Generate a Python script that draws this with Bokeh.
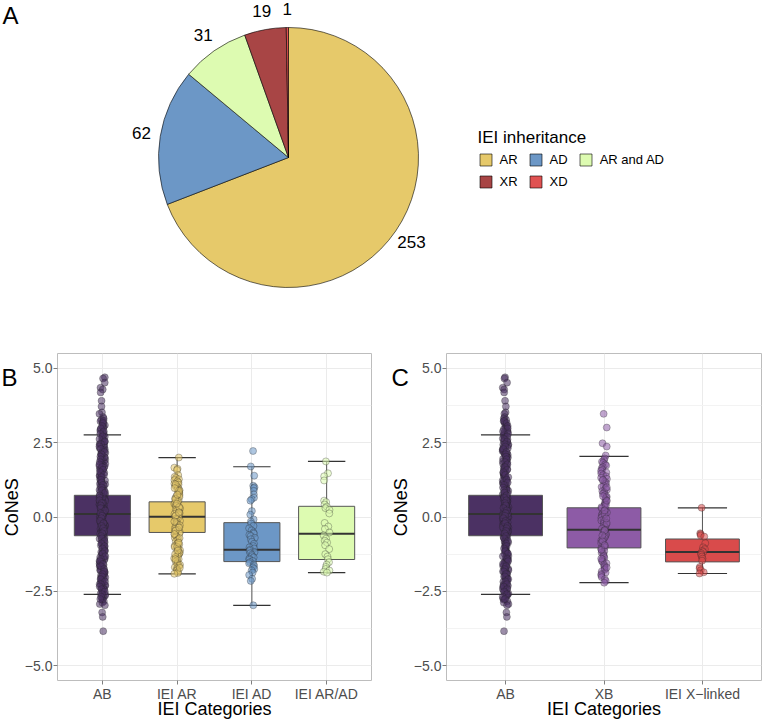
import math
from bokeh.plotting import figure
from bokeh.models import (Range1d, FactorRange, ColumnDataSource, Legend, LegendItem, Label,
                          FixedTicker, CustomJSTickFormatter)
from bokeh.layouts import column, row
from bokeh.transform import jitter, dodge
from bokeh.core.properties import value
from bokeh.embed import file_html
from bokeh.resources import INLINE

FONT = "Liberation Sans"

# ---------------- Panel A data ----------------
inherit_labels = ["AR", "AD", "AR and AD", "XR", "XD"]
inherit_counts = [253, 62, 31, 19, 1]
inherit_colors = ["#E6C96A", "#6C97C6", "#DDFBB1", "#A84545", "#E05252"]

# ---------------- Panel B data ----------------
cats_B = ["AB", "IEI AR", "IEI AD", "IEI AR/AD"]
colors_B = ["#4B3163", "#E6C96A", "#6C97C6", "#DDFBB1"]
q1_B = [-0.63, -0.52, -1.50, -1.43]
med_B = [0.10, 0.01, -1.10, -0.56]
q3_B = [0.73, 0.51, -0.19, 0.36]
lo_B = [-2.60, -1.91, -2.97, -1.87]
hi_B = [2.76, 2.00, 1.69, 1.87]

# ---------------- Panel C data ----------------
cats_C = ["AB", "XB", "IEI X\u2212linked"]
colors_C = ["#4B3163", "#8D5BA6", "#D94B4B"]
q1_C = [-0.63, -1.04, -1.51]
med_C = [0.10, -0.43, -1.18]
q3_C = [0.73, 0.31, -0.74]
lo_C = [-2.60, -2.21, -1.90]
hi_C = [2.76, 2.04, 0.31]

# ---------------- CoNeS values (read / estimated from the picture) ----------------
ab_vals = [4.70, 4.66, 4.52, 4.35, 4.29, 4.19, 3.91, 3.72, 3.52, 3.47, 3.36,
           3.31, 3.27, 3.22, 3.19, 3.13, 3.09, 3.03, 3.00, 2.95, 2.90, 2.86, 2.83, 2.77, 2.74,
           2.70, 2.64, 2.61, 2.57, 2.52, 2.47, 2.44, 2.40, 2.34, 2.31, 2.27, 2.21, 2.18, 2.13,
           2.09, 2.05, 2.00, 1.96, 1.93, 1.87, 1.83, 1.79, 1.75, 1.70, 1.66, 1.61, 1.58, 1.53,
           1.49, 1.44, 1.40, 1.36, 1.32, 1.27, 1.23, 1.18, 1.14, 1.10, 1.05, 1.02, 0.97, 0.93,
           0.88, 0.85, 0.80, 0.76, 0.71, 0.68, 0.63, 0.59, 0.54, 0.51, 0.46, 0.42, 0.38, 0.33,
           0.29, 0.25, 0.20, 0.16, 0.12, 0.08, 0.03, -0.01, -0.05, -0.10, -0.14, -0.18, -0.23,
           -0.27, -0.31, -0.36, -0.40, -0.44, -0.49, -0.53, -0.57, -0.62, -0.66, -0.70, -0.75,
           -0.79, -0.83, -0.88, -0.92, -0.96, -1.01, -1.05, -1.09, -1.14, -1.18, -1.22, -1.27,
           -1.31, -1.35, -1.40, -1.44, -1.48, -1.53, -1.57, -1.61, -1.66, -1.70, -1.74, -1.79,
           -1.83, -1.87, -1.92, -1.96, -2.00, -2.05, -2.09, -2.13, -2.18, -2.22, -2.26, -2.31,
           -2.35, -2.39, -2.44, -2.48, -2.52, -2.57, -2.61, -2.65, -2.70, -2.74, -2.78, -2.83,
           -2.88, -2.93, -2.97, -3.21, -3.36, -3.84,
           0.02, 0.11, -0.21, 0.35, -0.48, 0.57, -0.73, 0.81, -0.97, 1.12, -1.24, 1.38, -1.51,
           1.63, -1.78, 1.91, -2.03, 2.16, -2.29, 2.43, 0.06, -0.34, 0.48, -0.59, 0.67, -0.86,
           0.91, -1.12, 1.21, -1.37, 1.47, -1.63, 1.72, -1.90, 2.02, -2.15, 2.25, -2.42, 2.55,
           3.24, 3.16, 3.06, 2.98, 2.88, 2.80, 2.71, 2.62, 2.54, 2.45, 2.37, 2.29, 2.19, 2.11,
           2.03, 1.94, 1.85, 1.77, 1.68, 1.59, 1.51, 1.42, 1.34, 1.25, 1.16, 1.08, 0.99, 0.90,
           0.82, 0.73, 0.65, 0.56, 0.47, 0.39, 0.30, 0.22, 0.13, 0.04, -0.04, -0.13, -0.21,
           -0.30, -0.38, -0.47, -0.55, -0.64, -0.72, -0.81, -0.89, -0.98, -1.06, -1.15, -1.23,
           -1.32, -1.41, -1.49, -1.58, -1.66, -1.75, -1.83, -1.92, -2.00, -2.09, -2.17, -2.26,
           -2.34, -2.43, -2.51, -2.60, -2.68, -2.76]

ar_vals = [2.00, 1.66, 1.62, 1.58, 1.41, 1.35, 1.31, 1.27, 1.24, 1.20, 1.16, 1.12, 1.09, 1.05,
           1.01, 0.97, 0.93, 0.90, 0.86, 0.82, 0.78, 0.74, 0.71, 0.67, 0.63, 0.59, 0.55, 0.51,
           0.48, 0.44, 0.40, 0.36, 0.32, 0.29, 0.25, 0.21, 0.17, 0.13, 0.10, 0.06, 0.02, -0.02,
           -0.06, -0.09, -0.13, -0.17, -0.21, -0.25, -0.28, -0.32, -0.36, -0.40, -0.44, -0.47,
           -0.51, -0.55, -0.59, -0.63, -0.66, -0.70, -0.74, -0.78, -0.82, -0.85, -0.89, -0.93,
           -0.97, -1.01, -1.04, -1.08, -1.12, -1.16, -1.20, -1.23, -1.27, -1.31, -1.35, -1.39,
           -1.42, -1.46, -1.50, -1.54, -1.58, -1.61, -1.65, -1.69, -1.73, -1.77, -1.80, -1.84,
           -1.88, -1.91, 0.05, -0.15, 0.33, -0.45, 0.60, -0.71, 0.88, -1.00, 1.10, -1.25, 0.15,
           -0.35, 0.45, -0.57, 0.75, -0.87, 0.97, -1.13, -1.42, -1.71]

ad_vals = [2.22, 1.70, 1.39, 1.05, 1.00, 0.97, 0.88, 0.76, 0.65, 0.60, 0.55, 0.20, 0.08, -0.08,
           -0.15, -0.22, -0.30, -0.38, -0.45, -0.52, -0.56, -0.60, -0.64, -0.70, -0.75, -0.83,
           -0.90, -0.98, -1.02, -1.06, -1.10, -1.14, -1.18, -1.22, -1.27, -1.32, -1.36, -1.40,
           -1.44, -1.48, -1.52, -1.56, -1.60, -1.65, -1.70, -1.75, -1.80, -1.87, -1.95, -2.08,
           -2.15, -2.97]

arad_vals = [1.87, 1.47, 1.37, 1.23, 0.55, 0.50, 0.42, 0.35, 0.30, 0.24, 0.12, -0.20, -0.32,
             -0.40, -0.52, -0.62, -0.73, -0.80, -0.86, -0.95, -1.08, -1.25, -1.33, -1.42, -1.52,
             -1.60, -1.68, -1.75, -1.80, -1.84, -1.87]

xb_vals = [3.47, 3.01, 2.48, 2.37, 2.07, 1.97, 1.92, 1.86, 1.82, 1.77, 1.73, 1.68, 1.64, 1.59,
           1.55, 1.50, 1.46, 1.41, 1.37, 1.32, 1.28, 1.23, 1.19, 1.14, 1.10, 1.05, 1.01, 0.96,
           0.92, 0.87, 0.83, 0.78, 0.74, 0.69, 0.65, 0.60, 0.56, 0.51, 0.47, 0.42, 0.38, 0.33,
           0.29, 0.24, 0.20, 0.15, 0.11, 0.06, 0.02, -0.03, -0.07, -0.12, -0.16, -0.21, -0.25,
           -0.30, -0.34, -0.39, -0.43, -0.48, -0.52, -0.57, -0.61, -0.66, -0.70, -0.75, -0.79,
           -0.84, -0.88, -0.93, -0.97, -1.02, -1.06, -1.11, -1.15, -1.20, -1.24, -1.29, -1.33,
           -1.38, -1.42, -1.47, -1.51, -1.56, -1.60, -1.65, -1.69, -1.74, -1.78, -1.83, -1.87,
           -1.92, -1.96, -2.02, -2.09, -2.15, -2.21, -0.45, -0.20, 0.10, -0.80, 0.40, -1.10,
           0.70, -1.40, 1.00, -1.70, 1.25, -0.05, -0.62, 0.22, -0.95, 0.55]

xl_vals = [0.31, -0.55, -0.58, -0.62, -0.66, -0.88, -1.02, -1.08, -1.14, -1.18, -1.22, -1.27,
           -1.33, -1.40, -1.47, -1.68, -1.73, -1.79, -1.86, -1.90]

points_B = [ab_vals, ar_vals, ad_vals, arad_vals]
points_C = [ab_vals, xb_vals, xl_vals]

# ---------------- Panel A: pie ----------------
A_W, A_H = 762, 336
figA = figure(width=A_W, height=A_H, x_range=Range1d(0, A_W), y_range=Range1d(0, A_H),
              min_border=0, x_axis_location=None, y_axis_location=None,
              output_backend="svg", toolbar_location=None)
figA.outline_line_color = None
figA.grid.visible = False

cx, cy, r = 288, A_H - 157, 130
total = sum(inherit_counts)
starts, ends, lx, ly = [], [], [], []
cum = 0
for c in inherit_counts:
    s = math.pi / 2 - 2 * math.pi * cum / total
    cum += c
    e = math.pi / 2 - 2 * math.pi * cum / total
    starts.append(s)
    ends.append(e)
    m = (s + e) / 2
    lx.append(cx + 149 * math.cos(m))
    ly.append(cy + 149 * math.sin(m))

pie_src = ColumnDataSource(dict(label=inherit_labels, count=[str(c) for c in inherit_counts],
                                start=starts, end=ends, color=inherit_colors, lx=lx, ly=ly))
wedges = figA.wedge(x=cx, y=cy, radius=r, start_angle="start", end_angle="end",
                    direction="clock", fill_color="color", line_color="black",
                    line_width=0.6, source=pie_src)
figA.text(x="lx", y="ly", text="count", text_align="center", text_baseline="middle",
          text_font=value(FONT), text_font_size="17px", text_color="black", source=pie_src)

figA.add_layout(Label(x=2, y=A_H - 1, text="A", text_font=FONT, text_font_size="24px",
                      text_baseline="top", text_align="left", text_color="black"))


def make_legend(items, loc, title=None):
    leg = Legend(items=items, location=loc, orientation="horizontal", padding=0, margin=0,
                 spacing=10, label_standoff=7, glyph_width=15, glyph_height=15,
                 label_height=15, label_width=10, border_line_color=None,
                 background_fill_alpha=0, label_text_font=FONT, label_text_font_size="13px",
                 label_text_color="black")
    if title:
        leg.title = title
        leg.title_text_font = FONT
        leg.title_text_font_size = "17px"
        leg.title_text_font_style = "normal"
        leg.title_text_color = "black"
        leg.title_standoff = 4
    return leg


leg1 = make_legend([LegendItem(label=inherit_labels[i], renderers=[wedges], index=i) for i in range(3)],
                   (477.5, 169), "IEI inheritance")
leg2 = make_legend([LegendItem(label=inherit_labels[i], renderers=[wedges], index=i) for i in range(3, 5)],
                   (477.5, 147))
figA.add_layout(leg1)
figA.add_layout(leg2)

BC_H, TOP, BOT = 721 - A_H, 17, 40


# ---------------- side strips holding the panel letter and the y title ----------------
def strip(width, letter, letter_x, ylab_x):
    s = figure(width=width, height=BC_H, x_range=Range1d(0, width), y_range=Range1d(0, BC_H),
               min_border=0, x_axis_location=None, y_axis_location=None,
               output_backend="svg", toolbar_location=None)
    s.outline_line_color = None
    s.grid.visible = False
    s.add_layout(Label(x=letter_x, y=BC_H - 12, text=letter, text_font=FONT,
                       text_font_size="24px", text_baseline="top", text_align="left",
                       text_color="black"))
    s.add_layout(Label(x=ylab_x, y=BC_H - TOP - 164, text="CoNeS", angle=math.pi / 2,
                       text_font=FONT, text_font_size="18px", text_baseline="middle",
                       text_align="center", text_color="black"))
    return s


# ---------------- Panels B and C: box plots ----------------
def box_panel(cats, colors, q1, med, q3, lo, hi, pts, width, min_left, min_right, jw):
    # 0.1 category-width of padding on each side of the factors
    p = figure(x_range=FactorRange(*cats, range_padding=0.1, range_padding_units="absolute"),
               y_range=Range1d(-5.5, 5.5), width=width, height=BC_H,
               min_border_left=min_left, min_border_right=min_right,
               min_border_top=TOP, min_border_bottom=BOT,
               output_backend="svg", toolbar_location=None)
    p.background_fill_color = "white"
    p.outline_line_color = "#BDBDBD"
    p.outline_line_width = 1

    box_src = ColumnDataSource(dict(cat=cats, q1=q1, med=med, q3=q3, lo=lo, hi=hi, color=colors))
    p.segment(x0="cat", y0="lo", x1="cat", y1="hi", line_color="#555555", line_width=1,
              source=box_src)
    p.segment(x0=dodge("cat", -0.25, range=p.x_range), x1=dodge("cat", 0.25, range=p.x_range),
              y0="hi", y1="hi", line_color="#333333", line_width=1.2, source=box_src)
    p.segment(x0=dodge("cat", -0.25, range=p.x_range), x1=dodge("cat", 0.25, range=p.x_range),
              y0="lo", y1="lo", line_color="#333333", line_width=1.2, source=box_src)
    p.vbar(x="cat", width=0.75, top="q3", bottom="q1", fill_color="color",
           line_color="#555555", line_width=1, source=box_src)
    p.segment(x0=dodge("cat", -0.375, range=p.x_range), x1=dodge("cat", 0.375, range=p.x_range),
              y0="med", y1="med", line_color="#333333", line_width=2, source=box_src)

    pc, pv, pcol = [], [], []
    for c, col, vals in zip(cats, colors, pts):
        for v in vals:
            pc.append(c)
            pv.append(v)
            pcol.append(col)
    pt_src = ColumnDataSource(dict(cat=pc, val=pv, color=pcol))
    p.scatter(x=jitter("cat", width=jw, range=p.x_range), y="val", size=7,
              fill_color="color", fill_alpha=0.55, line_color="#222222", line_alpha=0.5,
              line_width=0.6, source=pt_src)

    p.yaxis.ticker = FixedTicker(ticks=[-5, -2.5, 0, 2.5, 5], minor_ticks=[-3.75, -1.25, 1.25, 3.75])
    p.yaxis.formatter = CustomJSTickFormatter(
        code="return (tick < 0 ? '\\u2212' : '') + Math.abs(tick).toFixed(1);")
    p.xaxis.axis_label = "IEI Categories"
    for ax in (p.xaxis[0], p.yaxis[0]):
        ax.axis_line_color = None
        ax.major_tick_line_color = "#7F7F7F"
        ax.major_tick_out = 4
        ax.major_tick_in = 0
        ax.minor_tick_line_color = None
        ax.major_label_text_font = FONT
        ax.major_label_text_font_size = "14px"
        ax.major_label_text_color = "#4D4D4D"
        ax.major_label_standoff = 1
        ax.axis_label_text_font = FONT
        ax.axis_label_text_font_size = "18px"
        ax.axis_label_text_font_style = "normal"
        ax.axis_label_text_color = "black"
    p.xaxis.axis_label_standoff = -6
    p.xgrid.grid_line_color = "#EBEBEB"
    p.ygrid.grid_line_color = "#EBEBEB"
    p.ygrid.minor_grid_line_color = "#F3F3F3"
    return p


stripB = strip(21, "B", 1, 11)
figB = box_panel(cats_B, colors_B, q1_B, med_B, q3_B, lo_B, hi_B, points_B,
                 359, 36, 9, 0.08)
stripC = strip(30, "C", 11, 20)
figC = box_panel(cats_C, colors_C, q1_C, med_C, q3_C, lo_C, hi_C, points_C,
                 352, 36, 1, 0.06)

layout = column(figA, row(stripB, figB, stripC, figC))
open("out.html", "w").write(file_html(layout, INLINE))
